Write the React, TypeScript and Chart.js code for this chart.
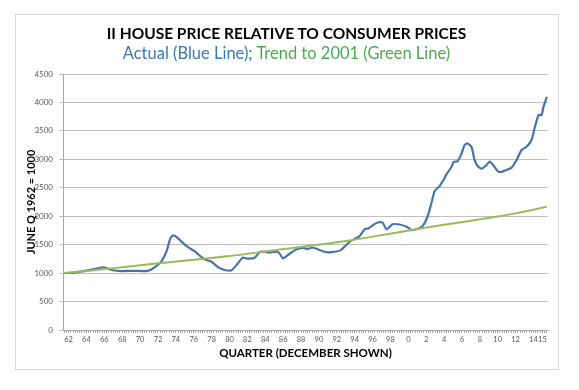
import React, { useEffect, useRef } from "react";
import { Chart, registerables } from "chart.js";

Chart.register(...registerables);

const TITLE = "II HOUSE PRICE RELATIVE TO CONSUMER PRICES";
const SUB_BLUE = "Actual (Blue Line); ";
const SUB_GREEN = "Trend to 2001 (Green Line)";
const Y_TITLE = "JUNE Q 1962 = 1000";
const X_TITLE = "QUARTER (DECEMBER SHOWN)";

// x = year position, where the December quarter of year Y sits at Y
const actualYears = [
  1961.5, 1962.67, 1964.13, 1964.91, 1965.92, 1966.92, 1967.93, 1969.38, 1970.5, 1971.06,
  1971.62, 1972.4, 1972.96, 1973.41, 1973.74, 1974.19, 1974.75, 1975.31, 1976.09, 1976.43,
  1977.21, 1977.99, 1978.66, 1979.45, 1980.23, 1980.9, 1981.46, 1982.02, 1982.8, 1983.36,
  1983.7, 1984.48, 1985.27, 1985.6, 1985.99, 1986.72, 1987.45, 1988.17, 1988.73, 1989.29,
  1990.08, 1990.8, 1991.75, 1992.42, 1992.87, 1993.43, 1993.99, 1994.55, 1995.11, 1995.56,
  1996.12, 1996.56, 1997.12, 1997.57, 1998.24, 1999.02, 1999.81, 2000.37, 2000.93, 2001.6,
  2002.16, 2002.6, 2002.94, 2003.5, 2003.95, 2004.28, 2004.84, 2005.07, 2005.51, 2005.96,
  2006.3, 2006.63, 2007.08, 2007.41, 2007.75, 2008.2, 2008.76, 2009.09, 2009.43, 2009.99,
  2010.43, 2010.99, 2011.55, 2012.11, 2012.67, 2013.23, 2013.79, 2014.12, 2014.57, 2014.91,
  2015.13, 2015.5,
];
const actualValues = [
  1000, 1010, 1047, 1070, 1100, 1050, 1035, 1040, 1035, 1050,
  1100, 1210, 1385, 1620, 1665, 1620, 1535, 1460, 1385, 1340,
  1245, 1200, 1110, 1055, 1050, 1165, 1270, 1255, 1270, 1370,
  1380, 1360, 1375, 1345, 1260, 1340, 1415, 1445, 1425, 1450,
  1406, 1368, 1375, 1400, 1465, 1550, 1600, 1650, 1770, 1790,
  1850, 1890, 1888, 1770, 1858, 1855, 1815, 1760, 1770, 1828,
  1995, 2240, 2440, 2530, 2640, 2740, 2870, 2955, 2965, 3106,
  3252, 3282, 3212, 2990, 2883, 2836, 2901, 2959, 2912, 2795,
  2778, 2813, 2854, 2989, 3164, 3222, 3340, 3546, 3780, 3780,
  3926, 4100,
];

const trendYears = [1961.5, 1966, 1971, 1976, 1980, 1984, 1988.2, 1993.4, 2000.1, 2004, 2008.2, 2012, 2015.5];
const trendValues = [1000, 1070, 1155, 1235, 1300, 1380, 1465, 1575, 1750, 1850, 1950, 2050, 2165];

const yTicks = [0, 500, 1000, 1500, 2000, 2500, 3000, 3500, 4000, 4500];
const labelledYears = [
  1962, 1964, 1966, 1968, 1970, 1972, 1974, 1976, 1978, 1980, 1982, 1984, 1986, 1988,
  1990, 1992, 1994, 1996, 1998, 2000, 2002, 2004, 2006, 2008, 2010, 2012, 2014, 2015,
];

const BLUE = "#4874ac";
const GREEN = "#9bbb59";
const FONT = "Lato, 'Open Sans', sans-serif";

export default function App() {
  const ref = useRef<HTMLCanvasElement | null>(null);

  useEffect(() => {
    if (!ref.current) return;
    const chart = new Chart(ref.current, {
      type: "line",
      data: {
        datasets: [
          {
            label: "Trend",
            data: trendYears.map((x, i) => ({ x, y: trendValues[i] })),
            borderColor: GREEN,
            borderWidth: 2,
            pointRadius: 0,
            tension: 0.4,
            fill: false,
          },
          {
            label: "Actual",
            data: actualYears.map((x, i) => ({ x, y: actualValues[i] })),
            borderColor: BLUE,
            borderWidth: 2.2,
            pointRadius: 0,
            tension: 0.2,
            fill: false,
          },
        ],
      },
      options: {
        animation: false,
        responsive: false,
        maintainAspectRatio: false,
        layout: { padding: { left: 15, right: 31, top: 74, bottom: 21 } },
        plugins: { legend: { display: false }, tooltip: { enabled: false }, title: { display: false } },
        scales: {
          x: {
            type: "linear",
            min: 1961.375,
            max: 2015.625,
            afterBuildTicks: (scale: any) => {
              const t: any[] = [];
              for (let q = 0; q <= 216; q++) t.push({ value: 1961.5 + q * 0.25 });
              scale.ticks = t;
            },
            afterFit: (scale: any) => {
              scale.height = 39;
            },
            ticks: {
              autoSkip: false,
              maxRotation: 0,
              minRotation: 0,
              padding: 2,
              color: "#595959",
              font: { family: FONT, size: 7.5 },
              callback: (v: any) => {
                const n = Number(v);
                if (labelledYears.includes(n)) return String(n % 100);
                return "";
              },
            },
            grid: { display: true, drawOnChartArea: false, drawTicks: true, tickLength: 3, color: "#a6a6a6" },
            border: { display: true, color: "#a6a6a6" },
            title: {
              display: true,
              text: X_TITLE,
              color: "#000000",
              font: { family: FONT, size: 11.5, weight: "bold" },
              padding: { top: 0, bottom: 9 },
            },
          },
          y: {
            min: 0,
            max: 4500,
            afterBuildTicks: (scale: any) => {
              scale.ticks = yTicks.map((v) => ({ value: v }));
            },
            afterFit: (scale: any) => {
              scale.width = 48;
            },
            ticks: {
              padding: 6,
              color: "#595959",
              font: { family: FONT, size: 8 },
              callback: (v: any) => String(v),
            },
            grid: { color: "#c0c0c0", tickLength: 4, lineWidth: 1 },
            border: { display: true, color: "#a6a6a6" },
            title: {
              display: true,
              text: Y_TITLE,
              color: "#000000",
              font: { family: FONT, size: 11, weight: "bold" },
              padding: { top: 10, bottom: 0 },
            },
          },
        },
      },
    });
    return () => chart.destroy();
  }, []);

  return (
    <div style={{ position: "absolute", left: 0, top: 0, width: 579, height: 390, background: "#ffffff" }}>
      <div
        style={{
          position: "absolute",
          left: 15,
          top: 14,
          width: 542,
          height: 354,
          border: "1px solid #d9d9d9",
        }}
      />
      <canvas ref={ref} width={579} height={390} style={{ position: "absolute", left: 0, top: 0 }} />
      <div
        style={{
          position: "absolute",
          left: 15,
          width: 543,
          top: 24,
          textAlign: "center",
          fontFamily: FONT,
          fontWeight: "bold",
          fontSize: 15.5,
          lineHeight: "19px",
          color: "#000",
        }}
      >
        {TITLE}
      </div>
      <div
        style={{
          position: "absolute",
          left: 15,
          width: 543,
          top: 43,
          textAlign: "center",
          fontFamily: FONT,
          fontSize: 16.5,
          lineHeight: "20px",
        }}
      >
        <span style={{ color: "#3a78b6" }}>{SUB_BLUE}</span>
        <span style={{ color: "#4fa854" }}>{SUB_GREEN}</span>
      </div>
    </div>
  );
}
